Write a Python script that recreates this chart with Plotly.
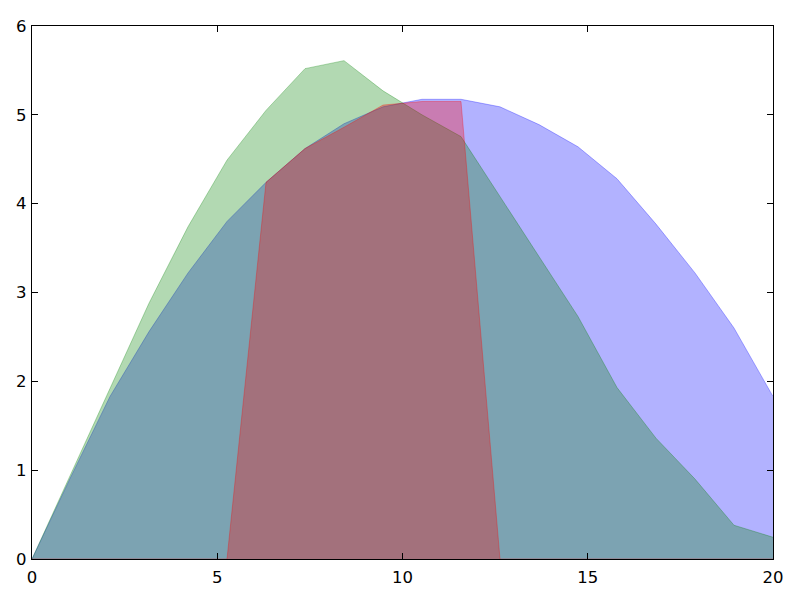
import numpy as np
import plotly.graph_objects as go

x = np.linspace(0, 20, 20)

blue_vals = [0, 0.93, 1.83, 2.56, 3.22, 3.80, 4.24, 4.62, 4.90, 5.09,
             5.175, 5.175, 5.09, 4.89, 4.64, 4.28, 3.77, 3.22, 2.60, 1.83]
green_vals = [0, 0.97, 1.92, 2.88, 3.74, 4.49, 5.05, 5.52, 5.61, 5.27,
              5.0, 4.755, 4.08, 3.41, 2.73, 1.93, 1.36, 0.90, 0.38, 0.245]
red_vals = [0, 0, 0, 0, 0, 0, 4.24, 4.62, 4.86, 5.11,
            5.15, 5.15, 0, 0, 0, 0, 0, 0, 0, 0]

x_ticks = [0, 5, 10, 15, 20]
y_ticks = [0, 1, 2, 3, 4, 5, 6]

series = [
    (blue_vals, "0,0,255"),
    (green_vals, "0,128,0"),
    (red_vals, "255,0,0"),
]

fig = go.Figure()
for vals, rgb in series:
    fig.add_trace(go.Scatter(
        x=x, y=vals, mode="lines", fill="tozeroy",
        fillcolor=f"rgba({rgb},0.3)",
        line=dict(color=f"rgba({rgb},0.3)", width=1),
        showlegend=False, hoverinfo="skip",
    ))

axis_common = dict(
    showline=True, linecolor="black", linewidth=1.4, mirror="ticks",
    ticks="inside", ticklen=6, tickwidth=1, tickcolor="black",
    showgrid=False, zeroline=False, automargin=False,
    tickfont=dict(family="DejaVu Sans", size=16.5, color="black"),
)

# page body has an 8px margin; compensate
fig.update_layout(
    width=792, height=592,
    margin=dict(l=24, r=27, t=18, b=41),
    paper_bgcolor="white", plot_bgcolor="white",
    xaxis=dict(range=[0, 20], tickvals=x_ticks, ticklabelstandoff=3, **axis_common),
    yaxis=dict(range=[0, 6], tickvals=y_ticks, ticklabelstandoff=1, **axis_common),
)

fig.write_html("out.html")
